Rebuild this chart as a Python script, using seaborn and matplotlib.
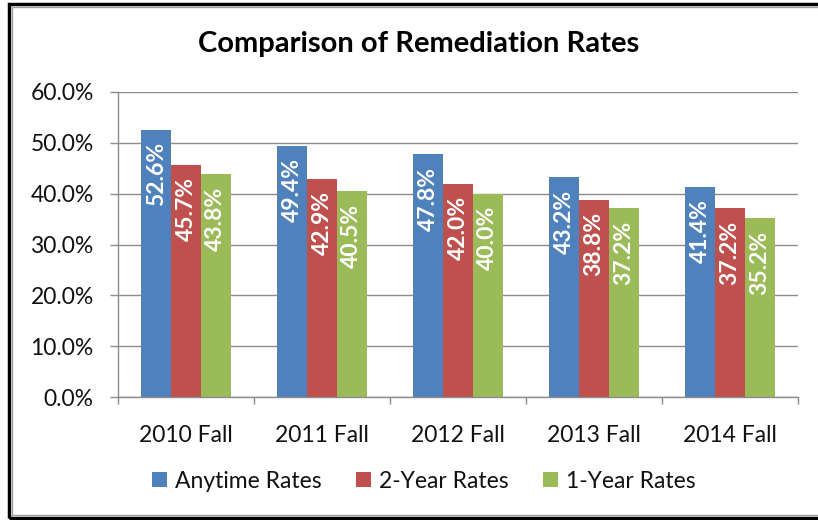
import matplotlib
matplotlib.use("Agg")
import matplotlib.pyplot as plt
import seaborn as sns
import pandas as pd
from matplotlib.patches import Patch, Rectangle
from matplotlib.ticker import FuncFormatter, MultipleLocator

categories = ["2010 Fall", "2011 Fall", "2012 Fall", "2013 Fall", "2014 Fall"]
series_names = ["Anytime Rates", "2-Year Rates", "1-Year Rates"]
anytime = [52.6, 49.4, 47.8, 43.2, 41.4]
two_year = [45.7, 42.9, 42.0, 38.8, 37.2]
one_year = [43.8, 40.5, 40.0, 37.2, 35.2]
colors = ["#4F81BD", "#C0504D", "#9BBB59"]

rows = []
for name, vals in zip(series_names, [anytime, two_year, one_year]):
    for c, v in zip(categories, vals):
        rows.append({"Term": c, "Series": name, "Rate": v})
df = pd.DataFrame(rows)

sns.set_theme(style="white")
plt.rcParams['font.family'] = ['Lato', 'DejaVu Sans']

fig = plt.figure(figsize=(8.18, 5.2), dpi=100)
ax = fig.add_axes([118/818, 1-397/520, 680/818, 305/520])

sns.barplot(data=df, x="Term", y="Rate", hue="Series", order=categories,
            hue_order=series_names, palette=colors, width=0.66, gap=0,
            saturation=1, ax=ax, legend=False, edgecolor="none", linewidth=0)

ax.set_ylim(0, 60)
ax.set_xlim(-0.5, 4.5)
ax.yaxis.set_major_locator(MultipleLocator(10))
ax.yaxis.set_major_formatter(FuncFormatter(lambda v, p: f"{v:.1f}%"))
ax.grid(axis="y", color="#8C8C8C", linewidth=1.0)
ax.set_axisbelow(True)
ax.set_xlabel("")
ax.set_ylabel("")
for s in ["top", "right"]:
    ax.spines[s].set_visible(False)
for s in ["left", "bottom"]:
    ax.spines[s].set_color("#8C8C8C")
    ax.spines[s].set_linewidth(1.0)

ax.tick_params(axis="y", left=True, length=5.5, width=1, color="#8C8C8C",
               pad=12, labelsize=16.5, labelcolor="#111111")
ax.set_xticks(range(len(categories)))
ax.set_xticklabels(categories)
ax.tick_params(axis="x", which="major", bottom=False, pad=14, labelsize=16.5,
               labelcolor="#111111")
ax.set_xticks([i + 0.5 for i in range(-1, len(categories))], minor=True)
ax.tick_params(axis="x", which="minor", bottom=True, length=5, width=1,
               color="#8C8C8C")

for cont in ax.containers:
    for patch in cont:
        h = patch.get_height()
        ax.annotate(f"{h:.1f}%", (patch.get_x() + patch.get_width()/2, h),
                    xytext=(0, -9), textcoords="offset points",
                    rotation=90, ha="center", va="top", color="white",
                    fontsize=16.5, fontweight="bold")

fig.text(419/818, 1-44/520, "Comparison of Remediation Rates", ha="center",
         va="center", fontsize=21, fontweight="bold", color="black")

handles = [Patch(facecolor=c, edgecolor="none") for c in colors]
fig.legend(handles, series_names, loc="center", ncol=3, frameon=False,
           bbox_to_anchor=(424/818, 1-481/520), fontsize=16.5,
           handlelength=0.66, handleheight=0.66, handletextpad=0.35,
           columnspacing=1.5, labelcolor="#111111")

# outer frame
fig.patches.append(Rectangle((9/818, 2/520), 820/818, 514/520,
                             transform=fig.transFigure, fill=False,
                             edgecolor="black", linewidth=2.5))
fig.patches.append(Rectangle((12/818, 5/520), 820/818, 508/520,
                             transform=fig.transFigure, fill=False,
                             edgecolor="#A0A0A0", linewidth=1.0))

fig.savefig("out.png", dpi=100, facecolor="white")
